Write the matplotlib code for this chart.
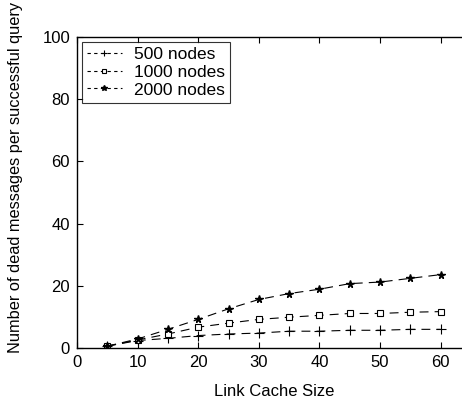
import matplotlib
matplotlib.use("Agg")
import matplotlib.pyplot as plt

plt.rcParams['font.family'] = ['Liberation Sans', 'DejaVu Sans']

cache_size = [5, 10, 15, 20, 25, 30, 35, 40, 45, 50, 55, 60]
nodes_500 = [0.6, 2.4, 3.1, 4.0, 4.5, 4.8, 5.4, 5.4, 5.7, 5.7, 6.0, 6.0]
nodes_1000 = [0.6, 2.6, 4.5, 6.7, 8.0, 9.2, 9.9, 10.5, 11.1, 11.1, 11.5, 11.7]
nodes_2000 = [0.6, 2.9, 6.0, 9.2, 12.6, 15.6, 17.5, 18.9, 20.7, 21.2, 22.4, 23.6]
labels = ['500 nodes', '1000 nodes', '2000 nodes']
xticks = [0, 10, 20, 30, 40, 50, 60]
yticks = [0, 20, 40, 60, 80, 100]

fig = plt.figure(figsize=(4.62, 4.05), dpi=100)
ax = fig.add_axes([77/462, 1 - 348/405, (471 - 77)/462, (348 - 37)/405])

kw = dict(color='black', linestyle='--', linewidth=0.8, dashes=(8, 5.5))
ax.plot(cache_size, nodes_500, marker='+', markersize=6.5, markeredgewidth=0.8, label=labels[0], **kw)
ax.plot(cache_size, nodes_1000, marker='s', markersize=5, markerfacecolor='white',
        markeredgewidth=0.8, label=labels[1], **kw)
ax.plot(cache_size, nodes_2000, marker='*', markersize=5.5, label=labels[2], **kw)

ax.set_xlim(0, 65)
ax.set_ylim(0, 100)
ax.set_xticks(xticks)
ax.set_yticks(yticks)
ax.tick_params(direction='in', top=True, right=False, labelsize=12, length=4, width=0.8, pad=5)
ax.spines['right'].set_visible(False)
for s in ['left', 'bottom', 'top']:
    ax.spines[s].set_linewidth(1.0)

ax.set_xlabel('Link Cache Size', fontsize=12, labelpad=10)
ax.set_ylabel('Number of dead messages per successful query', fontsize=11.8)
ax.yaxis.set_label_coords(-0.137, 0.547)

leg = ax.legend(loc='upper left', bbox_to_anchor=(0.012, 0.985), fontsize=12.5, frameon=True,
                fancybox=False, edgecolor='black', handlelength=2.0, handletextpad=0.7,
                borderaxespad=0.0, borderpad=0.3, labelspacing=0.15, markerscale=0.7)
leg.get_frame().set_linewidth(0.8)
for line in leg.get_lines():
    line.set_dashes((3, 3))

fig.savefig('out.png', dpi=100)
